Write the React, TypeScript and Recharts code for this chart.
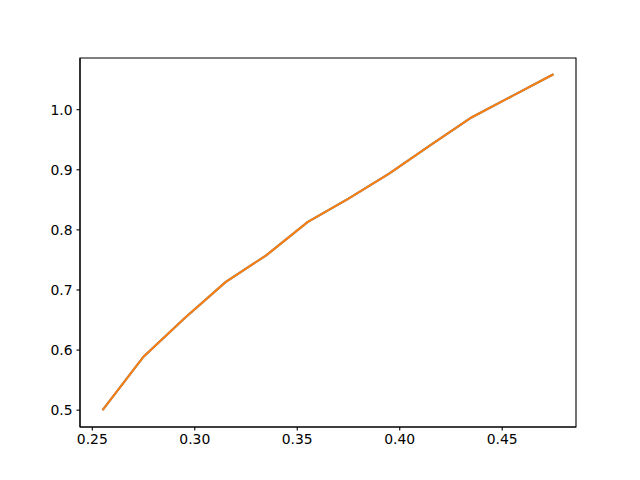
import { LineChart, Line, XAxis, YAxis, ReferenceArea } from "recharts";

// x positions and the two (overlapping) series
const xValues = [0.255, 0.275, 0.295, 0.315, 0.335, 0.355, 0.375, 0.395, 0.415, 0.435, 0.455, 0.475];
const seriesBlue = [0.5, 0.589, 0.653, 0.713, 0.758, 0.813, 0.852, 0.894, 0.941, 0.987, 1.023, 1.059];
const seriesOrange = [0.5, 0.589, 0.653, 0.713, 0.758, 0.813, 0.852, 0.894, 0.941, 0.987, 1.023, 1.059];

const xTicks = [0.25, 0.3, 0.35, 0.4, 0.45];
const yTicks = [0.5, 0.6, 0.7, 0.8, 0.9, 1.0];

const xDomain = [0.244, 0.486];
const yDomain = [0.472, 1.086];

const data = xValues.map((x, i) => ({ x, a: seriesBlue[i], b: seriesOrange[i] }));

const font = { fontFamily: "DejaVu Sans", fontSize: 13.9, fill: "#000" };
const axisLine = { stroke: "#000", strokeWidth: 1.1 };

export default function App() {
  return (
    <div style={{ position: "fixed", left: 0, top: 0, width: 640, height: 480, background: "#fff" }}>
      <LineChart width={640} height={480} data={data} margin={{ top: 58, right: 64, bottom: 23, left: 30 }}>
        <XAxis
          dataKey="x"
          type="number"
          domain={xDomain}
          ticks={xTicks}
          tickFormatter={(v: number) => v.toFixed(2)}
          tick={font}
          tickSize={3.5}
          tickMargin={4}
          tickLine={{ stroke: "#000", strokeWidth: 1.1 }}
          axisLine={axisLine}
          height={30}
          allowDataOverflow
        />
        <YAxis
          type="number"
          domain={yDomain}
          ticks={yTicks}
          tickFormatter={(v: number) => v.toFixed(1)}
          tick={font}
          tickSize={3.5}
          tickMargin={4}
          tickLine={{ stroke: "#000", strokeWidth: 1.1 }}
          axisLine={axisLine}
          width={50}
          allowDataOverflow
        />
        {/* axes frame (matplotlib-style box) */}
        <ReferenceArea
          x1={xDomain[0]}
          x2={xDomain[1]}
          y1={yDomain[0]}
          y2={yDomain[1]}
          fill="none"
          fillOpacity={0}
          stroke="#000"
          strokeWidth={1.1}
          ifOverflow="visible"
        />
        <Line dataKey="a" stroke="#1f77b4" strokeWidth={2.08} dot={false} isAnimationActive={false} />
        <Line dataKey="b" stroke="#ff7f0e" strokeWidth={2.08} dot={false} isAnimationActive={false} />
      </LineChart>
    </div>
  );
}
